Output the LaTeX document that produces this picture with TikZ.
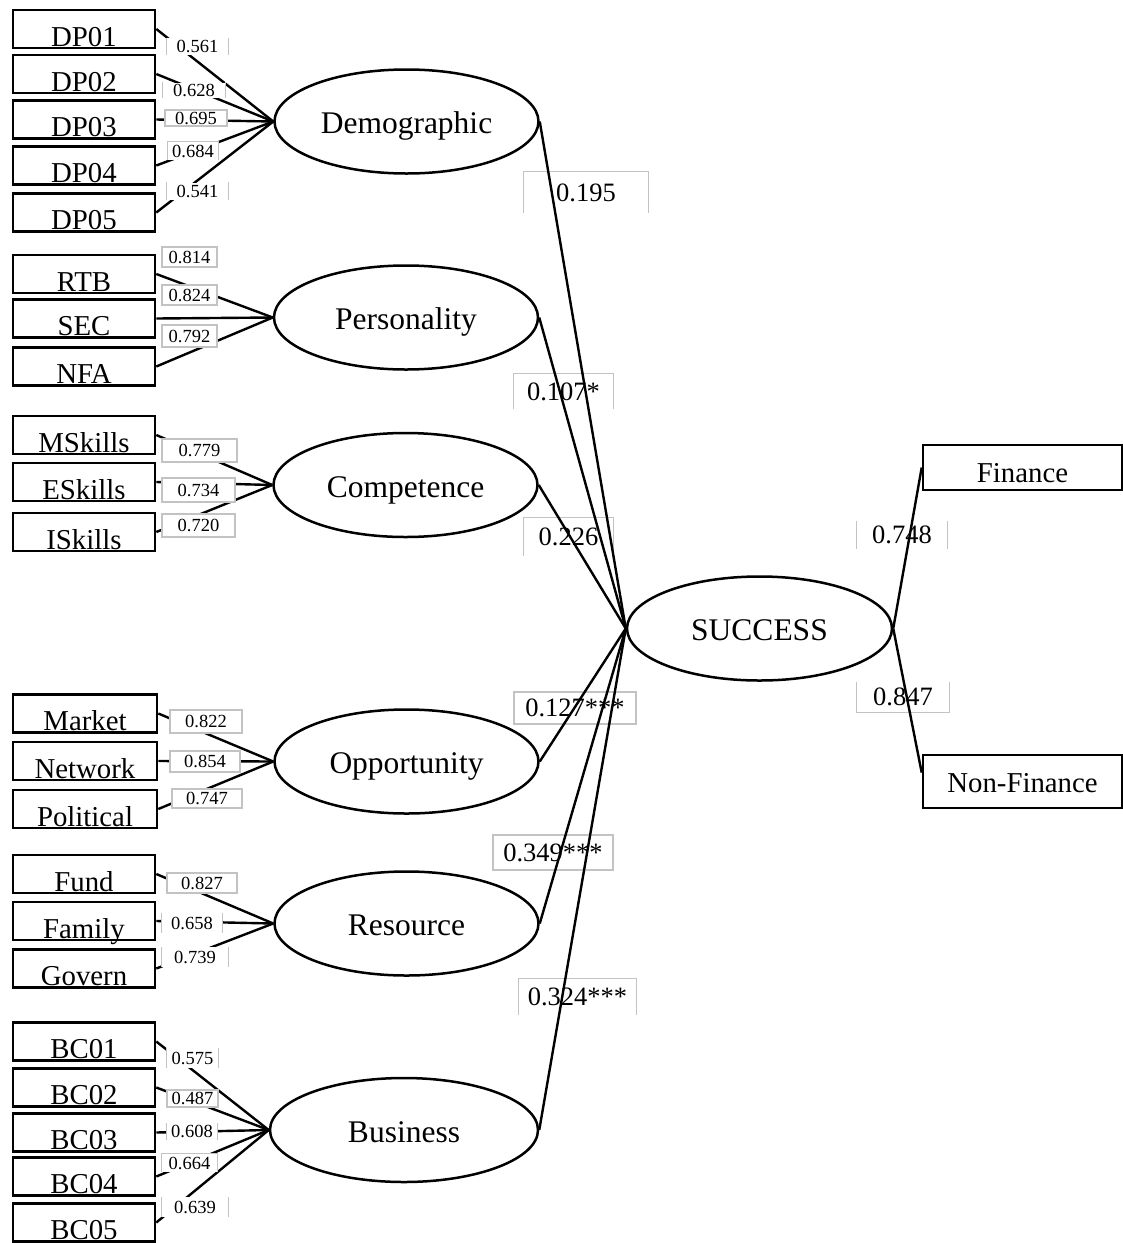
\documentclass[tikz,border=0pt]{standalone}
\usepackage{fontspec}
\setmainfont{Liberation Serif}
\usetikzlibrary{shapes.geometric,calc}
\definecolor{lgray}{RGB}{195,195,195}
\newcommand\bxsides[1]{\draw[gbord] (#1.north west)--(#1.south west) (#1.north east)--(#1.south east);}
\newcommand\bxtop[1]{\draw[gbord] (#1.south west)--(#1.north west)--(#1.north east)--(#1.south east);}
\newcommand\bxbot[1]{\draw[gbord] (#1.north west)--(#1.south west)--(#1.south east)--(#1.north east);}
\tikzset{
 ind/.style={draw, line width=2.6pt, rectangle, minimum width=142pt, minimum height=38pt, inner sep=0pt, text height=34pt, text depth=0pt, font=\fontsize{28.8}{30}\selectfont},
 lat/.style={draw, line width=2.5pt, ellipse, minimum width=264pt, minimum height=104pt, inner sep=0pt, text height=24pt, text depth=0pt, font=\fontsize{31.5}{33}\selectfont},
 outb/.style={draw, line width=2.6pt, rectangle, minimum width=199pt, inner sep=0pt, text depth=0pt, font=\fontsize{28.8}{30}\selectfont},
 conn/.style={line width=2.4pt},
 gbord/.style={draw=lgray, line width=1.2pt},
 sl/.style={inner sep=0pt, font=\fontsize{26.5}{28}\selectfont},
 slf/.style={sl, draw=lgray, line width=1.2pt},
 il/.style={inner sep=0pt, fill=white, font=\fontsize{18.5}{19}\selectfont},
 ilf/.style={il, draw=lgray, line width=1.2pt},
}
\begin{document}
\begin{tikzpicture}[x=1pt,y=-1pt]
\useasboundingbox (0,0) rectangle (1123,1243);

% latent variables
\node[lat] (dem) at (406.5,121.5) {Demographic};
\node[lat] (per) at (406,317.5) {Personality};
\node[lat] (com) at (405.5,485) {Competence};
\node[lat] (opp) at (406.5,761.5) {Opportunity};
\node[lat] (res) at (406.5,923.5) {Resource};
\node[lat, minimum width=268pt] (bus) at (404,1130) {Business};
\node[lat, minimum width=265pt] (suc) at (759.5,628.5) {SUCCESS};

% indicators
\node[ind] (dp1) at (84,29) {DP01};
\node[ind] (dp2) at (84,74) {DP02};
\node[ind] (dp3) at (84,119.5) {DP03};
\node[ind] (dp4) at (84,165.5) {DP04};
\node[ind] (dp5) at (84,212.5) {DP05};

\node[ind] (rtb) at (84,274) {RTB};
\node[ind] (sec) at (84,318.5) {SEC};
\node[ind] (nfa) at (84,366.5) {NFA};

\node[ind] (msk) at (84,435) {MSkills};
\node[ind] (esk) at (84,482) {ESkills};
\node[ind] (isk) at (84,532) {ISkills};

\node[ind, minimum width=144pt] (mkt) at (85,713.5) {Market};
\node[ind, minimum width=144pt] (net) at (85,761) {Network};
\node[ind, minimum width=144pt] (pol) at (85,809) {Political};

\node[ind] (fun) at (84,874) {Fund};
\node[ind] (fam) at (84,921) {Family};
\node[ind] (gov) at (84,968.5) {Govern};

\node[ind] (bc1) at (84,1041.5) {BC01};
\node[ind] (bc2) at (84,1087.5) {BC02};
\node[ind] (bc3) at (84,1132.5) {BC03};
\node[ind] (bc4) at (84,1176.5) {BC04};
\node[ind] (bc5) at (84,1222.5) {BC05};

\node[outb, minimum height=45pt, text height=29pt] (fin) at (1022.5,467.5) {Finance};
\node[outb, minimum height=53pt, text height=21pt] (nfi) at (1022.5,781.5) {Non-Finance};

% structural labels (beneath lines)
\node[sl, minimum width=124pt, minimum height=41pt] (l1) at (586,192.5) {0.195};
\bxtop{l1}
\node[sl, minimum width=99pt, minimum height=35pt] (l2) at (563.5,391.5) {0.107*};
\bxtop{l2}
\node[sl, minimum width=89pt, minimum height=38pt] (l3) at (568.5,537) {0.226};
\bxtop{l3}
\node[slf, minimum width=122pt, minimum height=32pt] (l4) at (575,708) {0.127***};
\node[slf, minimum width=120pt, minimum height=35pt] (l5) at (553,852.5) {0.349***};
\node[sl, minimum width=117pt, minimum height=36pt] (l6) at (577.5,997) {0.324***};
\bxtop{l6}
\node[sl, minimum width=90pt, minimum height=28pt] (l7) at (902,535) {0.748};
\bxsides{l7}
\node[sl, minimum width=92pt, minimum height=30pt] (l8) at (903,697) {0.847};
\bxbot{l8}

% structural paths
\draw[conn] (dem.east) -- (suc.west);
\draw[conn] (per.east) -- (suc.west);
\draw[conn] (com.east) -- (suc.west);
\draw[conn] (opp.east) -- (suc.west);
\draw[conn] (res.east) -- (suc.west);
\draw[conn] (bus.east) -- (suc.west);
\draw[conn] (suc.east) -- (fin.west);
\draw[conn] (suc.east) -- ($(nfi.north west)!0.34!(nfi.south west)$);

% measurement paths
\foreach \n in {dp1,dp2,dp3,dp4,dp5} \draw[conn] (\n.east) -- (dem.west);
\foreach \n in {rtb,sec,nfa} \draw[conn] (\n.east) -- (per.west);
\foreach \n in {msk,esk,isk} \draw[conn] (\n.east) -- (com.west);
\foreach \n in {mkt,net,pol} \draw[conn] (\n.east) -- (opp.west);
\foreach \n in {fun,fam,gov} \draw[conn] (\n.east) -- (res.west);
\foreach \n in {bc1,bc2,bc3,bc4,bc5} \draw[conn] (\n.east) -- (bus.west);

% loading labels (above lines)
\node[il, minimum width=61pt, minimum height=17pt] (a1) at (197.5,46.5) {0.561}; \bxsides{a1}
\node[il, minimum width=62pt, minimum height=15pt] (a2) at (194,90) {0.628}; \bxsides{a2}
\node[ilf, minimum width=62pt, minimum height=16pt] (a3) at (196,118) {0.695};
\node[il, minimum width=50pt, minimum height=18pt] (a4) at (193,151) {0.684}; \bxtop{a4}
\node[il, minimum width=61pt, minimum height=17pt] (a5) at (197.5,191) {0.541}; \bxsides{a5}

\node[ilf, minimum width=55pt, minimum height=20pt] (b1) at (189.5,257) {0.814};
\node[ilf, minimum width=55pt, minimum height=20pt] (b2) at (189.5,295) {0.824};
\node[ilf, minimum width=55pt, minimum height=22pt] (b3) at (189.5,336) {0.792};

\node[ilf, minimum width=75pt, minimum height=23pt] (c1) at (199.5,450.5) {0.779};
\node[ilf, minimum width=73pt, minimum height=24pt] (c2) at (198.5,490) {0.734};
\node[ilf, minimum width=73pt, minimum height=23pt] (c3) at (198.5,525.5) {0.720};

\node[ilf, minimum width=72pt, minimum height=23pt] (d1) at (206,721.5) {0.822};
\node[ilf, minimum width=70pt, minimum height=21pt] (d2) at (205,761.5) {0.854};
\node[ilf, minimum width=70pt, minimum height=19pt] (d3) at (207,798.5) {0.747};

\node[ilf, minimum width=70pt, minimum height=20pt] (e1) at (202,883) {0.827};
\node[il, minimum width=60pt, minimum height=20pt] (e2) at (192,923) {0.658}; \bxsides{e2}
\node[il, minimum width=66pt, minimum height=20pt] (e3) at (195,957) {0.739}; \bxsides{e3}

\node[il, minimum width=51pt, minimum height=20pt] (f1) at (192.5,1058) {0.575}; \bxsides{f1}
\node[ilf, minimum width=51pt, minimum height=17pt] (f2) at (192.5,1098.5) {0.487};
\node[il, minimum width=50pt, minimum height=17pt] (f3) at (192,1131.5) {0.608}; \bxsides{f3}
\node[il, minimum width=55pt, minimum height=18pt] (f4) at (189.5,1163) {0.664}; \bxtop{f4}
\node[il, minimum width=66pt, minimum height=20pt] (f5) at (195,1207) {0.639}; \bxsides{f5}
\end{tikzpicture}
\end{document}
